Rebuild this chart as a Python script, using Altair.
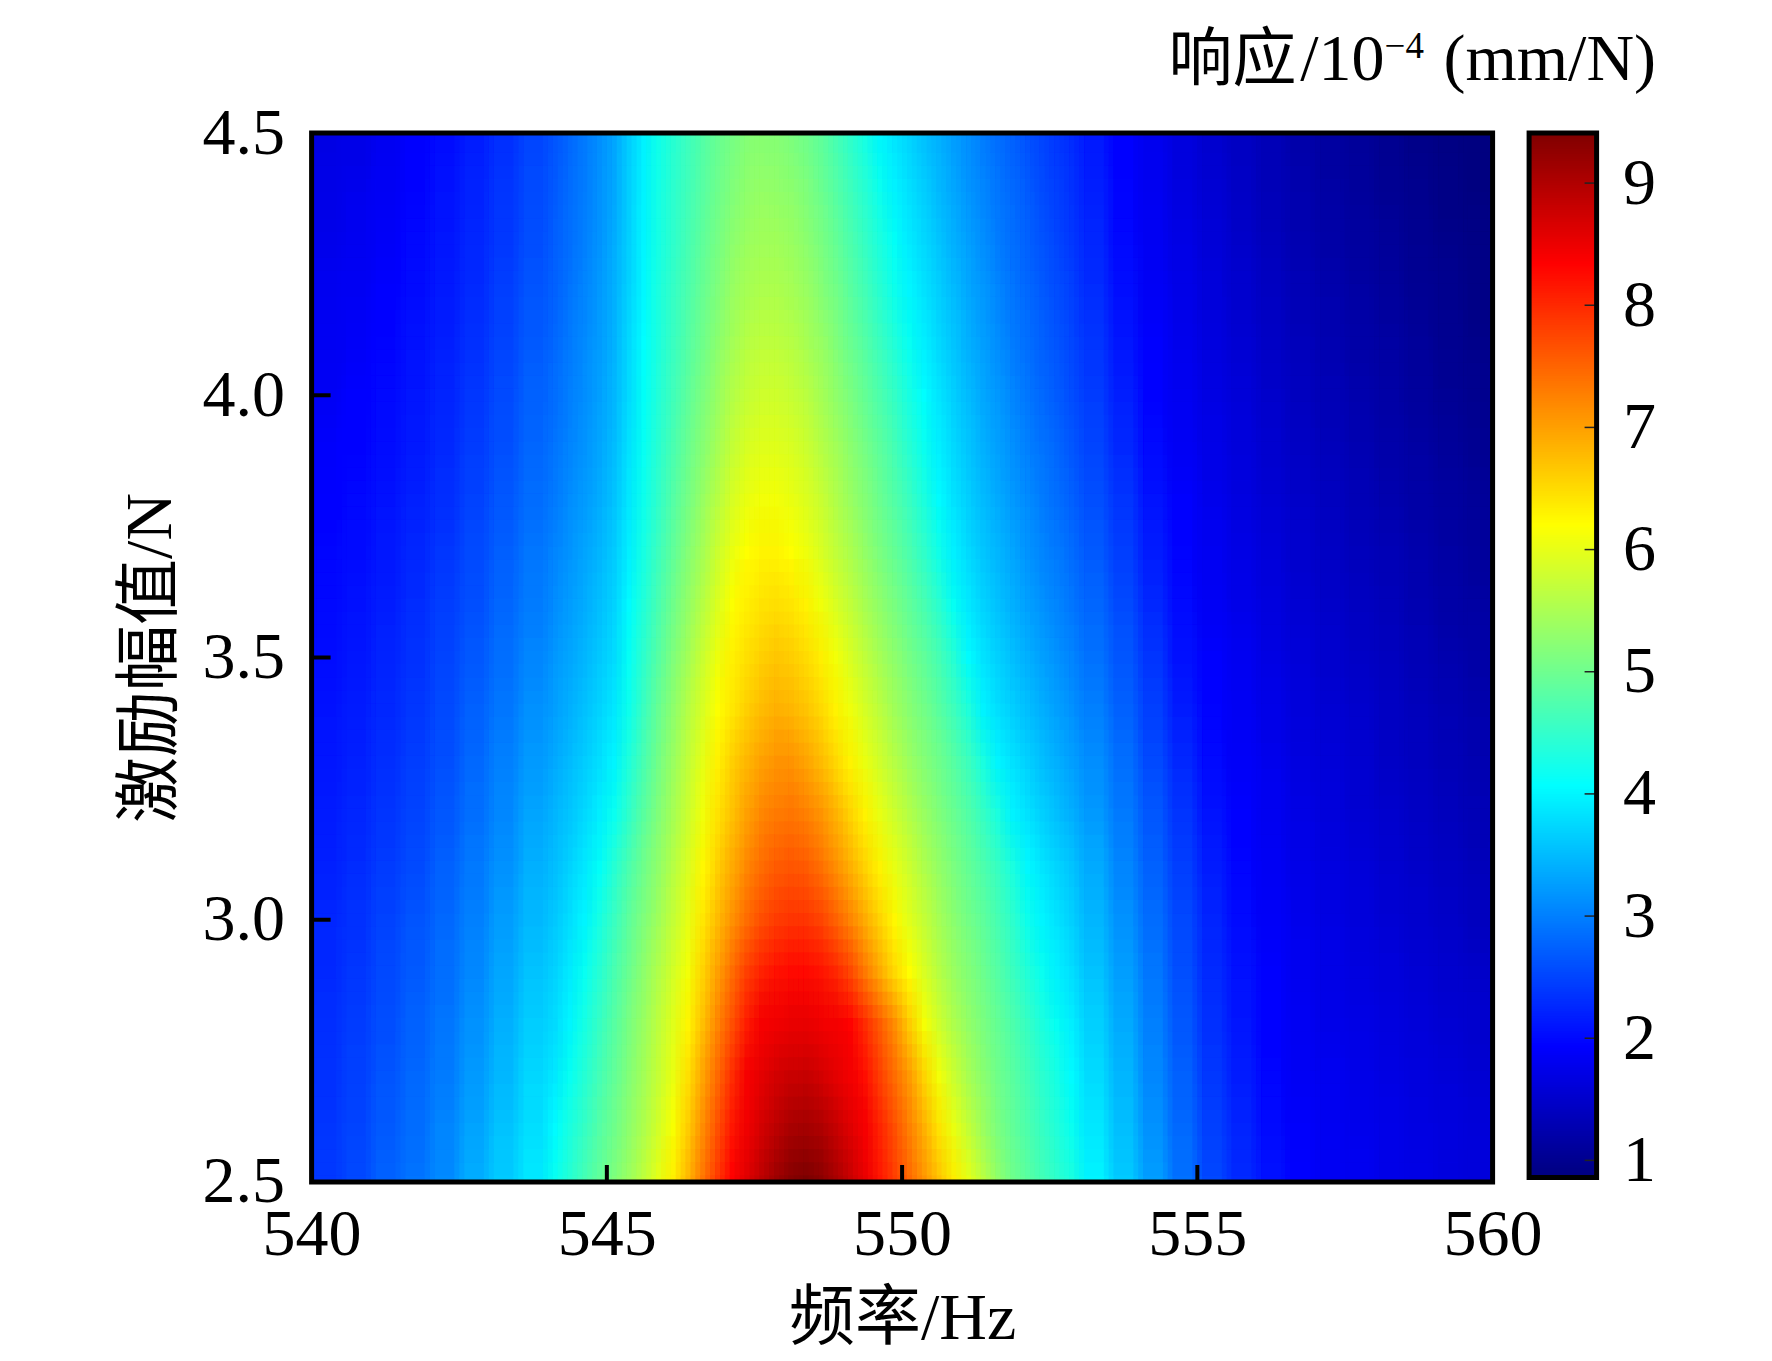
import altair as alt
import pandas as pd

FONT = "Liberation Serif, Noto Sans CJK SC"
DIGITS = "Liberation Serif"

x_edges = [540,540.5,541,541.5,542,542.5,543,543.5,
 544,544.25,544.5,544.75,545,545.25,545.5,545.75,546,546.25,546.5,546.75,547,547.25,547.5,547.75,
 548,548.25,548.5,548.75,549,549.25,549.5,549.75,550,550.25,550.5,550.75,551,551.25,551.5,551.75,
 552,552.25,552.5,552.75,553,553.5,554,554.5,555,555.5,556,556.5,557,557.5,558,558.5,559,559.5,560]

z250=[2.42,2.55,2.75,2.92,3.12,3.4,3.65,3.9, 4.17,4.42,4.68,4.92,5.15,5.4,5.68,6.0,6.32,6.8,7.35,7.85,8.33,8.6,8.9,9.15,9.33,9.41,9.3,9.05,8.78,8.5,8.15,7.8,7.45,7.07,6.7,6.33,6.0,5.65,5.3,5.03,4.85,4.65,4.47,4.3, 4.02,3.65,3.28,2.9,2.55,2.3,2.08,1.93,1.86,1.82,1.78,1.74,1.7,1.66]
z260=[2.39,2.52,2.7,2.87,3.06,3.32,3.58,3.83, 4.05,4.3,4.55,4.8,5.03,5.27,5.55,5.85,6.17,6.62,7.15,7.65,8.15,8.45,8.7,8.9,9.05,9.1,9.02,8.82,8.6,8.38,8.02,7.65,7.25,6.85,6.42,6.05,5.72,5.4,5.13,4.92,4.74,4.55,4.36,4.17, 3.9,3.55,3.18,2.83,2.48,2.25,2.03,1.91,1.84,1.8,1.76,1.71,1.67,1.63]
z270=[2.36,2.48,2.65,2.82,3.0,3.25,3.5,3.75, 3.92,4.15,4.4,4.67,4.92,5.18,5.45,5.75,6.05,6.45,6.95,7.45,7.95,8.38,8.55,8.7,8.78,8.8,8.7,8.55,8.42,8.2,7.8,7.42,7.02,6.55,6.12,5.78,5.5,5.25,5.02,4.85,4.65,4.45,4.27,4.05, 3.8,3.47,3.1,2.75,2.42,2.18,1.98,1.88,1.82,1.77,1.72,1.67,1.62,1.58]
z280=[2.33,2.45,2.6,2.76,2.94,3.18,3.42,3.67, 3.8,4.03,4.28,4.55,4.82,5.1,5.38,5.67,5.97,6.25,6.72,7.2,7.65,8.1,8.38,8.45,8.49,8.5,8.45,8.4,8.3,7.95,7.55,7.12,6.62,6.15,5.82,5.55,5.32,5.12,4.93,4.75,4.55,4.33,4.13,3.95, 3.7,3.38,3.02,2.68,2.35,2.12,1.95,1.85,1.78,1.73,1.68,1.63,1.58,1.54]
z290=[2.29,2.4,2.55,2.7,2.88,3.1,3.35,3.58, 3.72,3.93,4.15,4.42,4.7,4.98,5.27,5.57,5.85,6.13,6.55,6.98,7.4,7.8,8.05,8.18,8.24,8.24,8.16,8.0,7.72,7.3,6.9,6.5,6.2,5.9,5.62,5.38,5.18,5.0,4.8,4.58,4.38,4.17,3.97,3.82, 3.58,3.28,2.95,2.62,2.3,2.08,1.92,1.82,1.75,1.7,1.65,1.6,1.54,1.5]
z300=[2.26,2.36,2.5,2.65,2.82,3.03,3.27,3.5, 3.63,3.82,4.02,4.28,4.57,4.87,5.15,5.42,5.72,6.02,6.38,6.75,7.1,7.42,7.66,7.82,7.89,7.88,7.75,7.5,7.2,6.88,6.53,6.23,5.97,5.72,5.47,5.25,5.05,4.87,4.68,4.47,4.2,4.02,3.85,3.7, 3.48,3.18,2.87,2.55,2.25,2.02,1.9,1.8,1.72,1.66,1.6,1.54,1.49,1.42]
z310=[2.21,2.31,2.44,2.58,2.75,2.96,3.18,3.42, 3.55,3.72,3.9,4.1,4.4,4.72,5.02,5.3,5.6,5.9,6.23,6.58,6.9,7.18,7.4,7.55,7.6,7.55,7.38,7.12,6.85,6.55,6.27,6.02,5.78,5.55,5.33,5.12,4.93,4.75,4.55,4.3,4.04,3.88,3.74,3.6, 3.38,3.08,2.78,2.47,2.18,1.98,1.87,1.77,1.7,1.63,1.56,1.5,1.44,1.38]
z320=[2.17,2.26,2.38,2.52,2.68,2.88,3.1,3.33, 3.47,3.62,3.78,3.95,4.17,4.5,4.85,5.17,5.48,5.78,6.1,6.42,6.7,6.98,7.18,7.3,7.35,7.27,7.08,6.83,6.55,6.28,6.03,5.8,5.58,5.37,5.17,4.98,4.78,4.55,4.3,4.0,3.85,3.7,3.56,3.42, 3.25,2.98,2.68,2.38,2.1,1.93,1.83,1.73,1.66,1.59,1.52,1.46,1.4,1.34]
z330=[2.13,2.21,2.33,2.46,2.62,2.82,3.03,3.25, 3.38,3.52,3.67,3.83,4.02,4.35,4.7,5.05,5.38,5.7,6.0,6.3,6.58,6.8,6.98,7.08,7.07,6.95,6.76,6.52,6.28,6.05,5.82,5.6,5.4,5.2,5.02,4.83,4.6,4.3,4.02,3.85,3.7,3.55,3.42,3.3, 3.13,2.88,2.58,2.28,2.02,1.9,1.8,1.7,1.62,1.56,1.48,1.42,1.36,1.3]
z340=[2.09,2.17,2.28,2.41,2.56,2.75,2.95,3.17, 3.3,3.43,3.57,3.73,3.9,4.2,4.58,4.95,5.28,5.6,5.88,6.18,6.38,6.58,6.75,6.85,6.8,6.68,6.5,6.28,6.08,5.87,5.65,5.43,5.23,5.05,4.85,4.62,4.35,4.0,3.82,3.68,3.55,3.42,3.3,3.18, 3.02,2.78,2.48,2.18,1.97,1.87,1.76,1.66,1.58,1.52,1.45,1.39,1.32,1.26]
z350=[2.05,2.13,2.24,2.37,2.51,2.69,2.88,3.08, 3.22,3.35,3.48,3.63,3.8,4.12,4.48,4.82,5.15,5.45,5.77,6.07,6.3,6.45,6.58,6.65,6.6,6.48,6.32,6.12,5.9,5.68,5.47,5.27,5.08,4.9,4.68,4.4,4.05,3.85,3.7,3.56,3.42,3.3,3.18,3.06, 2.9,2.67,2.38,2.08,1.92,1.83,1.72,1.62,1.54,1.48,1.41,1.35,1.28,1.22]
z360=[2.01,2.08,2.19,2.32,2.46,2.62,2.8,3.0, 3.14,3.27,3.4,3.55,3.72,4.05,4.38,4.7,5.02,5.32,5.62,5.92,6.18,6.32,6.42,6.45,6.4,6.28,6.1,5.9,5.7,5.5,5.3,5.1,4.9,4.7,4.45,4.13,3.9,3.73,3.57,3.43,3.3,3.18,3.06,2.95, 2.8,2.58,2.28,2.02,1.88,1.78,1.67,1.58,1.5,1.43,1.37,1.3,1.23,1.17]
z370=[1.98,2.04,2.14,2.26,2.4,2.56,2.74,2.93, 3.07,3.2,3.33,3.47,3.65,3.97,4.28,4.6,4.9,5.2,5.48,5.78,6.05,6.2,6.26,6.26,6.2,6.08,5.9,5.7,5.52,5.32,5.12,4.93,4.72,4.5,4.22,3.97,3.78,3.62,3.47,3.34,3.2,3.08,2.97,2.86, 2.7,2.47,2.18,1.97,1.84,1.74,1.63,1.54,1.46,1.39,1.33,1.26,1.19,1.13]
z380=[1.94,2.0,2.09,2.21,2.34,2.5,2.68,2.86, 3.0,3.13,3.26,3.4,3.58,3.9,4.2,4.5,4.8,5.08,5.35,5.62,5.88,6.05,6.12,6.12,6.05,5.93,5.77,5.57,5.38,5.18,4.98,4.78,4.57,4.33,4.05,3.85,3.68,3.52,3.38,3.25,3.12,3.0,2.88,2.77, 2.62,2.38,2.1,1.92,1.8,1.7,1.59,1.5,1.42,1.35,1.28,1.21,1.15,1.09]
z390=[1.91,1.96,2.05,2.16,2.29,2.45,2.62,2.8, 2.93,3.06,3.2,3.35,3.53,3.85,4.14,4.43,4.7,4.97,5.22,5.47,5.72,5.88,5.96,5.96,5.9,5.78,5.62,5.44,5.26,5.06,4.86,4.66,4.42,4.18,3.96,3.77,3.6,3.44,3.3,3.16,3.03,2.91,2.8,2.68, 2.53,2.28,2.02,1.88,1.76,1.66,1.55,1.46,1.38,1.31,1.24,1.18,1.11,1.05]
z400=[1.88,1.93,2.01,2.12,2.25,2.4,2.57,2.75, 2.88,3.01,3.15,3.3,3.48,3.8,4.1,4.38,4.63,4.87,5.12,5.35,5.58,5.73,5.81,5.81,5.75,5.64,5.48,5.3,5.12,4.93,4.73,4.52,4.28,4.07,3.87,3.68,3.52,3.36,3.22,3.08,2.95,2.83,2.72,2.6, 2.45,2.2,1.96,1.84,1.72,1.62,1.51,1.42,1.34,1.27,1.2,1.14,1.07,1.01]
z410=[1.85,1.9,1.97,2.08,2.2,2.35,2.52,2.7, 2.83,2.97,3.11,3.26,3.45,3.77,4.07,4.33,4.57,4.8,5.03,5.25,5.46,5.6,5.67,5.67,5.6,5.5,5.35,5.17,4.98,4.79,4.58,4.36,4.14,3.95,3.77,3.6,3.43,3.28,3.14,3.0,2.88,2.76,2.65,2.54, 2.38,2.12,1.92,1.8,1.68,1.58,1.47,1.38,1.3,1.23,1.17,1.1,1.03,0.98]
z420=[1.82,1.86,1.94,2.04,2.16,2.3,2.47,2.65, 2.78,2.92,3.07,3.23,3.42,3.73,4.04,4.3,4.52,4.74,4.95,5.15,5.35,5.48,5.54,5.54,5.48,5.37,5.22,5.05,4.85,4.65,4.43,4.2,4.03,3.85,3.68,3.52,3.36,3.21,3.07,2.94,2.82,2.7,2.59,2.48, 2.32,2.06,1.89,1.77,1.65,1.54,1.43,1.34,1.26,1.19,1.13,1.06,1.0,0.95]
z430=[1.79,1.83,1.9,2.0,2.12,2.26,2.42,2.6, 2.74,2.88,3.03,3.2,3.39,3.7,4.02,4.27,4.48,4.68,4.88,5.07,5.25,5.37,5.43,5.42,5.36,5.25,5.1,4.93,4.73,4.52,4.3,4.1,3.92,3.75,3.59,3.43,3.28,3.14,3.0,2.88,2.76,2.64,2.53,2.42, 2.26,2.0,1.86,1.73,1.61,1.5,1.39,1.3,1.22,1.15,1.09,1.02,0.97,0.92]
z440=[1.75,1.8,1.87,1.96,2.08,2.22,2.38,2.56, 2.7,2.85,3.0,3.17,3.36,3.68,4.0,4.25,4.45,4.63,4.81,5.0,5.16,5.27,5.32,5.3,5.24,5.14,4.98,4.8,4.6,4.4,4.17,3.98,3.82,3.66,3.5,3.35,3.2,3.07,2.94,2.82,2.7,2.58,2.47,2.36, 2.2,1.97,1.83,1.7,1.58,1.47,1.36,1.27,1.19,1.12,1.05,0.99,0.94,0.9]
z450=[1.71,1.76,1.83,1.92,2.04,2.18,2.34,2.52, 2.67,2.82,2.97,3.14,3.33,3.66,3.98,4.22,4.42,4.6,4.77,4.94,5.08,5.18,5.22,5.2,5.13,5.03,4.88,4.68,4.47,4.25,4.03,3.86,3.71,3.56,3.42,3.27,3.13,3.0,2.87,2.75,2.63,2.52,2.41,2.3, 2.15,1.94,1.8,1.67,1.55,1.44,1.33,1.24,1.16,1.09,1.02,0.96,0.91,0.87]

y_levels = [2.5,2.6,2.7,2.8,2.9,3.0,3.1,3.2,3.3,3.4,3.5,3.6,3.7,3.8,3.9,4.0,4.1,4.2,4.3,4.4,4.5]
z_rows = [z250,z260,z270,z280,z290,z300,z310,z320,z330,z340,z350,z360,z370,z380,z390,z400,z410,z420,z430,z440,z450]

x_ticks = [540,545,550,555,560]
y_ticks = [2.5,3.0,3.5,4.0,4.5]
x_inner = [545,550,555]
y_inner = [3.0,3.5,4.0]
cb_ticks = [1,2,3,4,5,6,7,8,9]
cb_low, cb_high = 0.86, 9.41
jet_domain = [0.86,1.93,4.07,6.2,8.34,9.41]
jet_range = ["#00007f","#0000ff","#00ffff","#ffff00","#ff0000","#7f0000"]

recs = []
for yv, row in zip(y_levels, z_rows):
    assert len(row) == len(x_edges) - 1, yv
    for i, v in enumerate(row):
        recs.append({"x0": x_edges[i], "x1": x_edges[i+1], "y0": yv-0.05, "y1": yv+0.05, "v": v})
df = pd.DataFrame(recs)

W, H = 1181, 1049
CW, CH = 67.5, 1044.5

jet = alt.Scale(domain=jet_domain, range=jet_range, interpolate="rgb", clamp=True)
xs = alt.Scale(domain=[540,560], nice=False, zero=False)
ys = alt.Scale(domain=[2.5,4.5], nice=False, zero=False)

x_axis = alt.Axis(values=x_ticks, format="d", grid=False, ticks=False, domain=False, labelFont=DIGITS,
                  labelFontSize=66, labelColor="black", labelPadding=21, labelFlush=False, labelOverlap=False,
                  title="频率/Hz", titleFont=FONT, titleFontSize=66, titleFontWeight="normal",
                  titleColor="black", titlePadding=19)
y_axis = alt.Axis(values=y_ticks, format=".1f", grid=False, ticks=False, domain=False, labelFont=DIGITS,
                  labelFontSize=66, labelColor="black", labelPadding=27, labelFlush=False, labelOverlap=False,
                  title="激励幅值/N", titleFont=FONT, titleFontSize=66, titleFontWeight="normal",
                  titleColor="black", titlePadding=18)

def heat(op, dx, dy, stroke=False):
    kw = dict(clip=True, opacity=op, xOffset=dx, x2Offset=dx, yOffset=dy, y2Offset=dy)
    enc = dict(
        x=alt.X("x0:Q", scale=xs, axis=x_axis),
        x2="x1:Q",
        y=alt.Y("y0:Q", scale=ys, axis=y_axis),
        y2="y1:Q",
        fill=alt.Fill("v:Q", scale=jet, legend=None),
    )
    if stroke:
        kw["strokeWidth"] = 1
        enc["stroke"] = alt.Stroke("v:Q", scale=jet, legend=None)
    else:
        kw["strokeWidth"] = 0
    return alt.Chart(df).mark_rect(**kw).encode(**enc)

heat_layers = [heat(1, 0, 0, True)]
phases = [(dx, dy) for dx in (-4.9, 0, 4.9) for dy in (-19.7, -6.6, 6.6, 19.7)]
for k, (dx, dy) in enumerate(phases, start=1):
    heat_layers.append(heat(round(1/k, 4), dx, dy))

x_tick_marks = alt.Chart(pd.DataFrame({"x": x_inner})).mark_rule(color="black", strokeWidth=4).encode(
    x=alt.X("x:Q", scale=xs, axis=x_axis), y=alt.value(H-17), y2=alt.value(H))
y_tick_marks = alt.Chart(pd.DataFrame({"y": y_inner})).mark_rule(color="black", strokeWidth=4).encode(
    y=alt.Y("y:Q", scale=ys, axis=y_axis), x=alt.value(0), x2=alt.value(19))
frame = alt.Chart(pd.DataFrame({"a":[540],"b":[560],"c":[2.5],"d":[4.5]})).mark_rect(
    fillOpacity=0, stroke="black", strokeWidth=5).encode(
    x=alt.X("a:Q", scale=xs, axis=x_axis), x2="b:Q", y=alt.Y("c:Q", scale=ys, axis=y_axis), y2="d:Q")

main = alt.layer(*heat_layers, x_tick_marks, y_tick_marks, frame).properties(width=W, height=H)

cb_edges = [round(cb_low + 0.02*i, 2) for i in range(int((cb_high-cb_low)/0.02)+1)]
cb_df = pd.DataFrame({"y0": cb_edges, "y1": [min(e+0.05, cb_high) for e in cb_edges], "v": [e+0.01 for e in cb_edges]})
cs = alt.Scale(domain=[cb_low, cb_high], nice=False, zero=False)
cb_axis = alt.Axis(orient="right", values=cb_ticks, format="d", grid=False, ticks=False, domain=False,
                   labelFont=DIGITS, labelFontSize=66, labelColor="black", labelPadding=26, labelOverlap=False,
                   labelFlush=False, title=None)
cb_rect = alt.Chart(cb_df).mark_rect(strokeWidth=0).encode(
    x=alt.value(0), x2=alt.value(CW),
    y=alt.Y("y0:Q", scale=cs, axis=cb_axis), y2="y1:Q",
    fill=alt.Fill("v:Q", scale=jet, legend=None))
cb_tick_marks = alt.Chart(pd.DataFrame({"t": cb_ticks})).mark_rule(color="#222222", strokeWidth=1.5).encode(
    y=alt.Y("t:Q", scale=cs, axis=cb_axis), x=alt.value(CW-12), x2=alt.value(CW))
cb_frame = alt.Chart(pd.DataFrame({"a":[cb_low],"b":[cb_high]})).mark_rect(
    fillOpacity=0, stroke="black", strokeWidth=5).encode(
    x=alt.value(0), x2=alt.value(CW), y=alt.Y("a:Q", scale=cs, axis=cb_axis), y2="b:Q")

def label(text, x, y, align, size=66):
    return alt.Chart(pd.DataFrame({"t": [text]})).mark_text(
        font=FONT, fontSize=size, align=align, baseline="alphabetic", color="black").encode(
        text="t:N", x=alt.value(x), y=alt.value(y))

t0 = label("响应", -232.5, -53, "right", 64)
t1 = label("/10", -144.5, -53, "right")
t2 = label("−4", -144.5, -75, "left", 37)
t3 = label("(mm/N)", 127, -53, "right")

cbar = alt.layer(cb_rect, cb_tick_marks, cb_frame, t0, t1, t2, t3).properties(width=CW, height=CH)

chart = alt.hconcat(main, cbar, spacing=36.5, bounds="flush").properties(
    padding={"left": 108.6, "top": 19, "right": 0, "bottom": 0},
    background="white",
).configure_view(strokeWidth=0)

chart.save("out.html", embed_options={"renderer": "svg", "actions": False})
